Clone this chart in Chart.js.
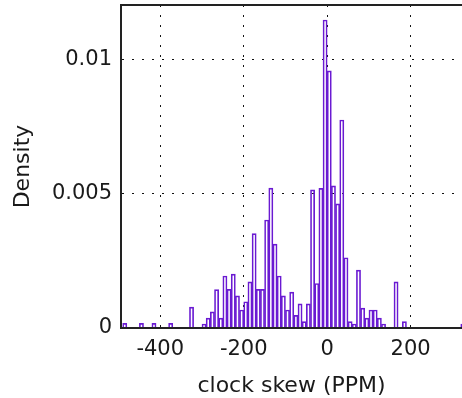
<!DOCTYPE html>
<html>
<head>
<meta charset="utf-8">
<script src="https://cdn.jsdelivr.net/npm/chart.js@4/dist/chart.umd.min.js"></script>
<style>
  html, body { margin: 0; padding: 0; background: #fff; }
  canvas { display: block; }
</style>
</head>
<body>
<canvas id="hist" width="462" height="398"></canvas>
<script>
// histogram of clock skew, bins 10 PPM wide (left edge of each non-empty bin)
const binWidth = 10;
const binLeft = [
  -490, -450, -420, -380, -330,
  -300, -290, -280, -270, -260, -250, -240, -230, -220, -210,
  -200, -190, -180, -170, -160, -150, -140, -130, -120, -110,
  -100, -90, -80, -70, -60, -50, -40, -30, -20, -10,
  0, 10, 20, 30, 40, 50, 60, 70, 80, 90,
  100, 110, 120, 130, 160, 180, 320
];
const density = [
  0.00017, 0.00017, 0.00017, 0.00017, 0.00078,
  0.00015, 0.00037, 0.0006, 0.00143, 0.00037, 0.00194, 0.00144, 0.00201, 0.0012, 0.00067,
  0.00098, 0.00172, 0.00352, 0.00144, 0.00144, 0.00403, 0.00522, 0.00313, 0.00194, 0.0012,
  0.00067, 0.00134, 0.00047, 0.0009, 0.00024, 0.0009, 0.00515, 0.00166, 0.00521, 0.01149,
  0.00959, 0.0053, 0.00463, 0.00776, 0.00262, 0.00024, 0.00015, 0.00216, 0.00074, 0.00037,
  0.00067, 0.00067, 0.00037, 0.00015, 0.00172, 0.00024, 0.00015
];

const xTicks = [-400, -200, 0, 200];
const yTicks = [0, 0.005, 0.01];
const yTickLabels = ['0', '0.005', '0.01'];

Chart.defaults.font.family = '"DejaVu Sans", sans-serif';
Chart.defaults.color = '#1a1a1a';

// top frame line (matlab box)
const boxPlugin = {
  id: 'box',
  afterDraw(chart) {
    const { ctx, chartArea } = chart;
    ctx.save();
    ctx.strokeStyle = '#222';
    ctx.lineWidth = 2;
    ctx.beginPath();
    ctx.moveTo(chartArea.left, chartArea.top);
    ctx.lineTo(chartArea.right, chartArea.top);
    ctx.stroke();
    ctx.restore();
  }
};

// fixed axis boxes, no extra label padding at the ends
function fitX(s) {
  s.height = 70;
  s.paddingLeft = 0;
  s.paddingRight = 0;
}
function fitY(s) {
  s.width = 121;
  s.paddingTop = 0;
  s.paddingBottom = 0;
}

const ctx = document.getElementById('hist').getContext('2d');
new Chart(ctx, {
  type: 'bar',
  data: {
    datasets: [{
      data: binLeft.map((l, i) => ({ x: l + binWidth / 2, y: density[i] })),
      backgroundColor: 'rgba(255,255,255,0)',
      borderColor: '#6a1ad2',
      borderWidth: 1,
      barPercentage: 1,
      categoryPercentage: 1
    }]
  },
  options: {
    responsive: false,
    animation: false,
    layout: { padding: { top: 5, right: 0, bottom: 0, left: 0 } },
    plugins: { legend: { display: false }, tooltip: { enabled: false } },
    scales: {
      x: {
        type: 'linear',
        min: -494,
        max: 323,
        offset: false,
        afterBuildTicks: s => { s.ticks = xTicks.map(v => ({ value: v })); },
        afterFit: fitX,
        ticks: { font: { size: 21 }, padding: 9, maxRotation: 0 },
        grid: { color: '#111', lineWidth: 1, drawTicks: false, offset: false },
        border: { color: '#222', width: 2, dash: [2, 8], z: 1 },
        title: {
          display: true,
          text: 'clock skew (PPM)',
          font: { size: 22, lineHeight: 1 },
          padding: { top: 0, bottom: 1 }
        }
      },
      y: {
        min: 0,
        max: 0.01205,
        afterBuildTicks: s => { s.ticks = yTicks.map(v => ({ value: v })); },
        afterFit: fitY,
        ticks: {
          font: { size: 21 },
          padding: 9,
          callback: (v, i) => yTickLabels[i]
        },
        grid: { color: '#111', lineWidth: 1, drawTicks: false },
        border: { color: '#222', width: 2, dash: [2, 8], z: 1 },
        title: {
          display: true,
          text: 'Density',
          font: { size: 22, lineHeight: 1.2 },
          padding: { top: 10, bottom: 0 }
        }
      }
    }
  },
  plugins: [boxPlugin]
});
</script>
</body>
</html>
